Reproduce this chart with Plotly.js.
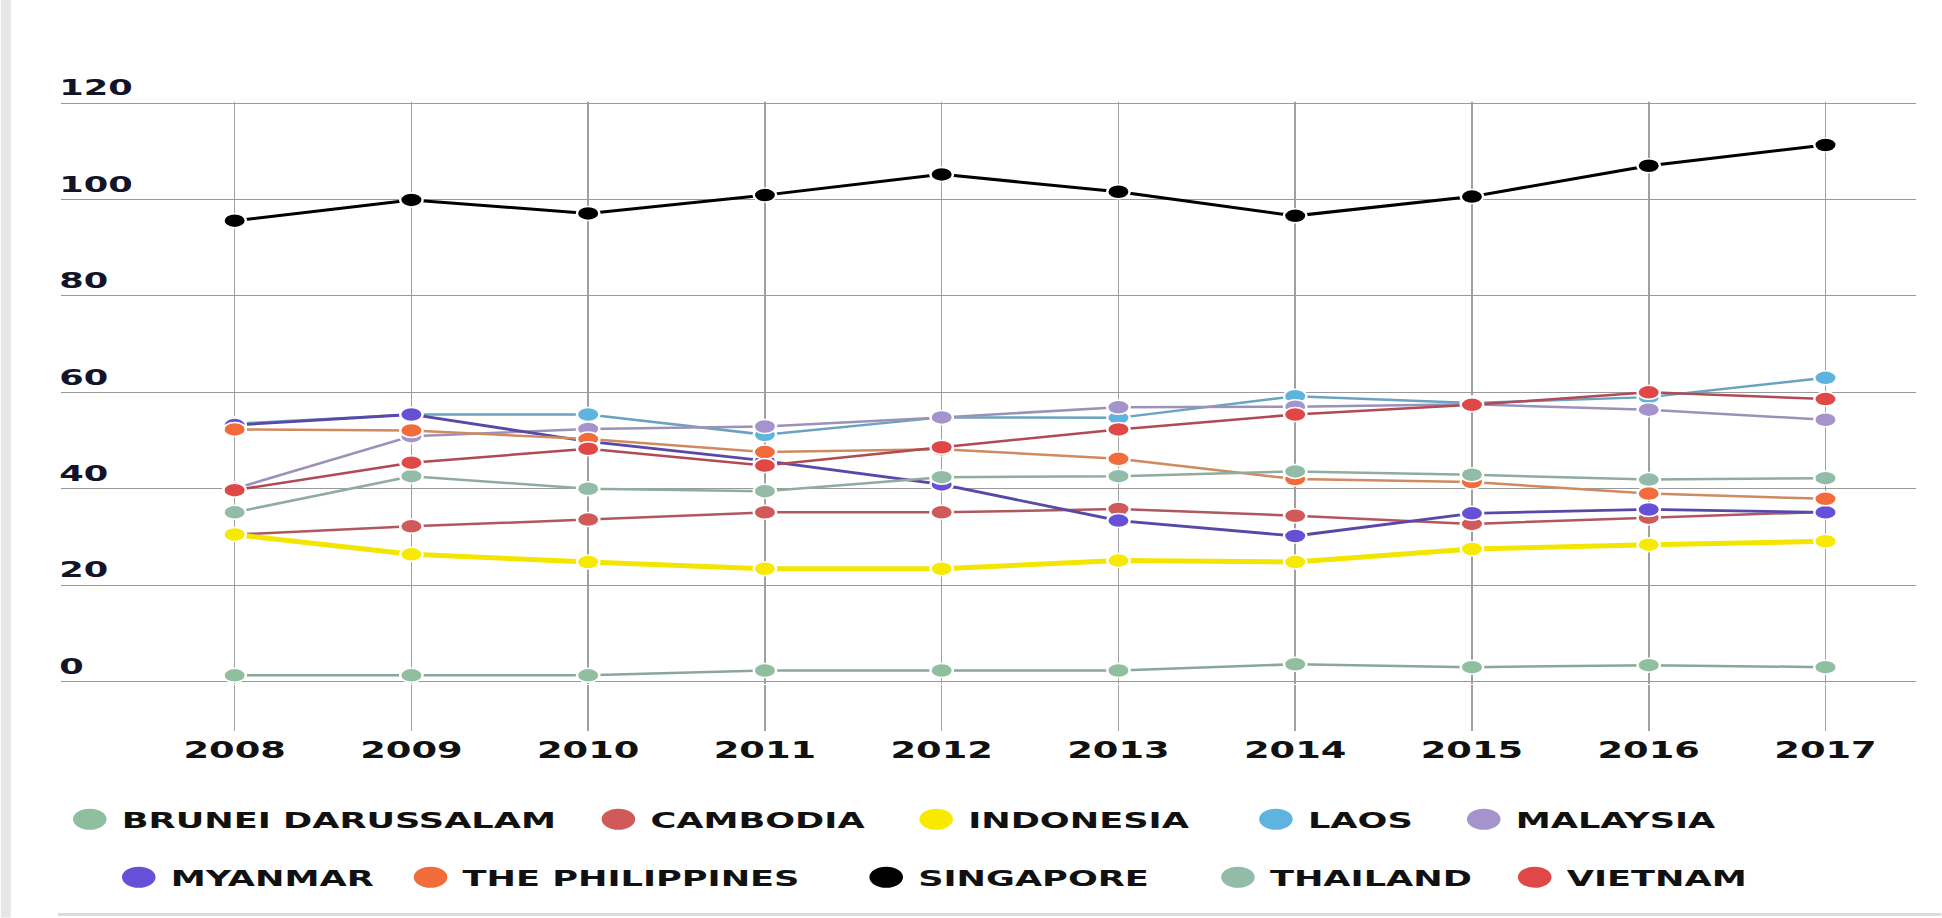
<!DOCTYPE html>
<html>
<head>
<meta charset="utf-8">
<script src="https://cdn.plot.ly/plotly-3.0.1.min.js"></script>
<style>
html,body{margin:0;padding:0;background:#ffffff;}
#wrap{width:1942px;height:918px;overflow:hidden;position:relative;background:#ffffff;}
#chart{width:1214px;height:918px;transform-origin:0 0;}
</style>
</head>
<body>
<div id="wrap"><div id="chart"></div></div>
<script>
// ---- data ----
const years = [2008, 2009, 2010, 2011, 2012, 2013, 2014, 2015, 2016, 2017];
const yearLabels = ['2008', '2009', '2010', '2011', '2012', '2013', '2014', '2015', '2016', '2017'];
const countries = ['BRUNEI DARUSSALAM', 'CAMBODIA', 'INDONESIA', 'LAOS', 'MALAYSIA',
                   'MYANMAR', 'THE PHILIPPINES', 'SINGAPORE', 'THAILAND', 'VIETNAM'];
const brunei      = [1.3, 1.3, 1.3, 2.3, 2.3, 2.3, 3.6, 3.0, 3.4, 3.0];
const cambodia    = [30.5, 32.2, 33.6, 35.1, 35.1, 35.8, 34.4, 32.7, 34.0, 35.2];
const indonesia   = [30.5, 26.4, 24.8, 23.4, 23.4, 25.1, 24.8, 27.5, 28.4, 29.1];
const laos        = [53.5, 55.4, 55.4, 51.2, 54.8, 54.7, 59.2, 57.8, 59.0, 63.0];
const malaysia    = [40.0, 50.9, 52.4, 52.9, 54.8, 56.9, 57.0, 57.5, 56.4, 54.3];
const myanmar     = [53.2, 55.4, 49.8, 45.8, 40.9, 33.4, 30.2, 34.9, 35.7, 35.1];
const philippines = [52.3, 52.1, 50.3, 47.6, 48.2, 46.2, 42.0, 41.4, 39.0, 37.9];
const singapore   = [95.6, 99.9, 97.1, 100.9, 105.2, 101.6, 96.6, 100.6, 107.0, 111.3];
const thailand    = [35.1, 42.6, 40.0, 39.5, 42.4, 42.6, 43.6, 42.9, 41.9, 42.2];
const vietnam     = [39.7, 45.4, 48.3, 44.8, 48.6, 52.3, 55.4, 57.4, 60.0, 58.6];
const yTicks = [0, 20, 40, 60, 80, 100, 120];
const yTickLabels = ['0', '20', '40', '60', '80', '100', '120'];

const seriesValues = [brunei, cambodia, indonesia, laos, malaysia, myanmar, philippines, singapore, thailand, vietnam];

// ---- styles ----
const markerColors = ['#8fbf9f', '#d05a5a', '#f7ea00', '#5fb3df', '#a593cc',
                      '#6650d8', '#f26b3a', '#000000', '#93bca8', '#e04848'];
const lineColors   = ['#8aa898', '#b0575f', '#f2e600', '#6aa3c0', '#9c92b8',
                      '#5848a8', '#d08a60', '#000000', '#8fac9c', '#b04a55'];
const lineWidths   = [2.5, 2.5, 5, 2.5, 2.5, 2.8, 2.5, 3, 2.5, 2.5];

// horizontal stretch of the reference picture
const W = 1214, H = 918;
const S = 1942 / W;
const PXU = (682 - 103) / 120;          // pixels per value unit
const yMin = -0.5, yMax = 131;          // room above 120 for its label
const L = 60 / S, R = W - 1917 / S;
const T = 103 - (yMax - 120) * PXU;
const B = H - (682 - yMin * PXU);
const plotW = W - L - R, plotH = H - T - B;
document.getElementById('chart').style.transform = 'scaleX(' + S + ')';
function paperY(py) { return (H - B - py) / plotH; }
function paperX(px) { return (px / S - L) / plotW; }

// legend positions (reference pixels: text start x, row center y)
const legendTextX = [121, 650, 968, 1308, 1516, 170, 462, 918, 1270, 1567];
const legendRowY  = [820, 820, 820, 820, 820, 878, 878, 878, 878, 878];

const traces = [];
countries.forEach((name, i) => {
  traces.push({
    type: 'scatter', mode: 'lines+markers', name: name,
    x: years, y: seriesValues[i],
    line: {color: lineColors[i], width: lineWidths[i]},
    marker: {color: markerColors[i], size: 14, line: {color: '#ffffff', width: 1.5}},
    showlegend: false, hoverinfo: 'skip'
  });
});
countries.forEach((name, i) => {
  traces.push({
    type: 'scatter', mode: 'markers', name: name,
    x: [null], y: [null],
    marker: {color: markerColors[i], size: 16, line: {color: markerColors[i], width: 5}},
    legend: i === 0 ? 'legend' : 'legend' + (i + 1),
    showlegend: true, hoverinfo: 'skip'
  });
});

const legendFont = {family: 'DejaVu Sans', size: 22, weight: 'bold', color: '#111111'};
function legendAt(i) {
  return {
    orientation: 'h',
    x: paperX(legendTextX[i]) - 40 / plotW, xanchor: 'left',
    y: paperY(legendRowY[i]), yanchor: 'middle',
    bgcolor: 'rgba(0,0,0,0)', borderwidth: 0,
    font: legendFont, itemclick: false, itemdoubleclick: false
  };
}

const layout = {
  width: W, height: H,
  margin: {l: L, r: R, t: T, b: B, pad: 0},
  paper_bgcolor: '#ffffff', plot_bgcolor: '#ffffff',
  font: {family: 'DejaVu Sans', color: '#111111'},
  showlegend: true,
  xaxis: {
    range: [2008 - (234 - 60) / 176.9, 2017 + (1917 - 1826) / 176.9],
    tickvals: years, ticktext: yearLabels,
    showgrid: true, gridcolor: '#a0a0a0', gridwidth: 1,
    ticks: 'outside', ticklen: 48 - (-yMin * PXU), tickcolor: '#a0a0a0', tickwidth: 1,
    zeroline: false, showline: false,
    tickfont: {family: 'DejaVu Sans', size: 23, weight: 'bold', color: '#111111'},
    fixedrange: true
  },
  yaxis: {
    range: [yMin, yMax],
    tickvals: yTicks, ticktext: yTickLabels,
    showgrid: true, gridcolor: '#9a9a9a', gridwidth: 1,
    zeroline: false, showline: false, ticks: '',
    ticklabelposition: 'inside top',
    ticklabelstandoff: -4,
    tickfont: {family: 'DejaVu Sans', size: 22, weight: 'bold', color: '#141428'},
    fixedrange: true
  },
  shapes: [
    // hide the part of the vertical grid above the 120 line
    {type: 'rect', xref: 'paper', yref: 'y', layer: 'above',
     x0: paperX(160), x1: 1.01, y0: 120.25, y1: yMax + 1,
     fillcolor: '#ffffff', line: {width: 0}},
    {type: 'rect', xref: 'paper', yref: 'paper', layer: 'below',
     x0: paperX(0), x1: paperX(10),
     y0: paperY(918), y1: paperY(0),
     fillcolor: '#e6e6e6', line: {width: 0}},
    {type: 'line', xref: 'paper', yref: 'paper', layer: 'below',
     x0: paperX(57), x1: paperX(1942),
     y0: paperY(915), y1: paperY(915),
     line: {color: '#dcdcdc', width: 3}}
  ]
};
for (let i = 0; i < countries.length; i++) {
  layout[i === 0 ? 'legend' : 'legend' + (i + 1)] = legendAt(i);
}

Plotly.newPlot('chart', traces, layout, {displayModeBar: false, staticPlot: true});
</script>
</body>
</html>
